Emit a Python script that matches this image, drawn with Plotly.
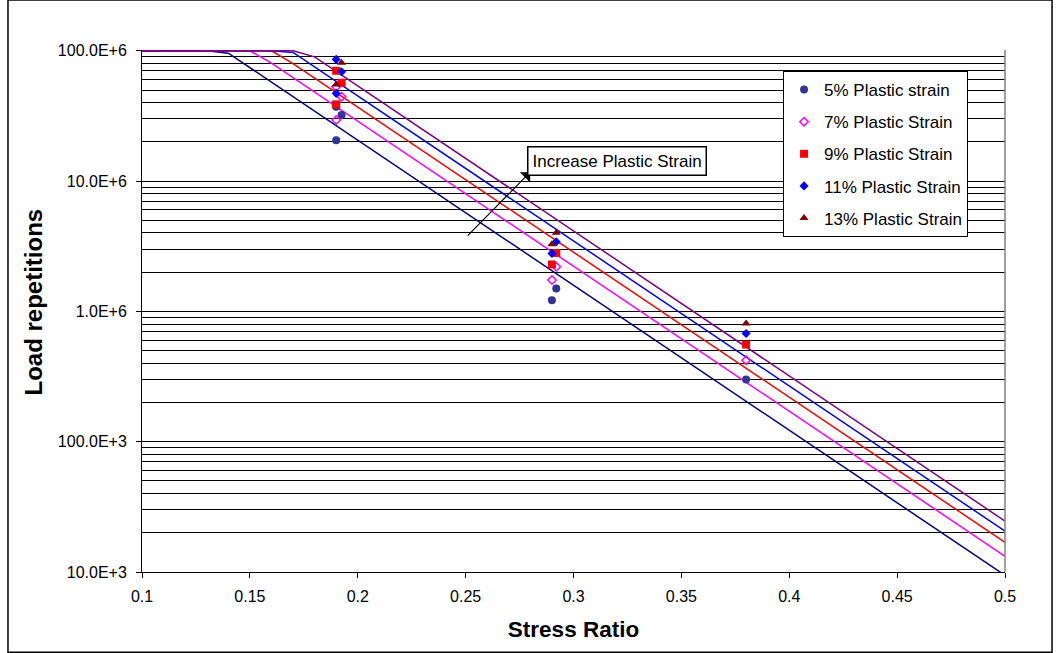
import plotly.graph_objects as go

# ---- Data ----
# Model lines (vertices of each polyline: stress ratio, load repetitions)
line_names = ["5% model", "7% model", "9% model", "11% model", "13% model"]
line_colors = ["#000080", "#FF00FF", "#FF0000", "#0000FF", "#800080"]
line5_x = [0.10, 0.13, 0.14, 0.50]
line5_y = [1.0e8, 1.0e8, 9.59e7, 9.43e3]
line7_x = [0.10, 0.15, 0.16, 0.50]
line7_y = [1.0e8, 1.0e8, 8.03e7, 1.32e4]
line9_x = [0.10, 0.16, 0.17, 0.50]
line9_y = [1.0e8, 1.0e8, 7.96e7, 1.69e4]
line11_x = [0.10, 0.16, 0.17, 0.50]
line11_y = [1.0e8, 1.0e8, 9.72e7, 2.06e4]
line13_x = [0.10, 0.17, 0.18, 0.50]
line13_y = [1.0e8, 1.0e8, 8.98e7, 2.46e4]

# Test points
s5_x = [0.190, 0.1925, 0.190, 0.292, 0.290, 0.380]
s5_y = [2.06e7, 3.21e7, 3.72e7, 1.50e6, 1.22e6, 3.00e5]
s7_x = [0.190, 0.1925, 0.190, 0.292, 0.290, 0.380]
s7_y = [2.94e7, 4.44e7, 5.29e7, 2.20e6, 1.74e6, 4.22e5]
s9_x = [0.190, 0.1925, 0.190, 0.292, 0.290, 0.380]
s9_y = [3.88e7, 5.68e7, 7.02e7, 2.81e6, 2.29e6, 5.57e5]
s11_x = [0.190, 0.1925, 0.190, 0.292, 0.290, 0.380]
s11_y = [4.71e7, 6.90e7, 8.59e7, 3.42e6, 2.78e6, 6.77e5]
s13_x = [0.190, 0.1925, 0.292, 0.290, 0.380]
s13_y = [5.52e7, 8.09e7, 4.01e6, 3.28e6, 8.08e5]

series_names = ["5% Plastic strain", "7% Plastic Strain", "9% Plastic Strain",
                "11% Plastic Strain", "13% Plastic Strain"]

x_ticks = [0.1, 0.15, 0.2, 0.25, 0.3, 0.35, 0.4, 0.45, 0.5]
x_ticktext = ["0.1", "0.15", "0.2", "0.25", "0.3", "0.35", "0.4", "0.45", "0.5"]
y_ticks = [1e4, 1e5, 1e6, 1e7, 1e8]
y_ticktext = ["10.0E+3", "100.0E+3", "1.0E+6", "10.0E+6", "100.0E+6"]

FONT = "Liberation Sans, Arial, sans-serif"

fig = go.Figure()

lines = [(line5_x, line5_y), (line7_x, line7_y), (line9_x, line9_y),
         (line11_x, line11_y), (line13_x, line13_y)]
for (lx, ly), nm, c in zip(lines, line_names, line_colors):
    fig.add_trace(go.Scatter(x=lx, y=ly, mode="lines", name=nm,
                             line=dict(color=c, width=1.5), showlegend=False,
                             hoverinfo="skip"))

pts = [(s5_x, s5_y), (s7_x, s7_y), (s9_x, s9_y), (s11_x, s11_y), (s13_x, s13_y)]
markers = [
    dict(symbol="circle", size=8, color="#333399"),
    dict(symbol="diamond-open", size=6.5, color="#FF00FF", line=dict(width=1.5, color="#FF00FF")),
    dict(symbol="square", size=8, color="#FF0000"),
    dict(symbol="diamond", size=7, color="#0000FF"),
    dict(symbol="triangle-up", size=8, color="#800000"),
]
for i, ((px, py), nm, mk) in enumerate(zip(pts, series_names, markers)):
    fig.add_trace(go.Scatter(x=px, y=py, mode="markers", name=nm, marker=mk,
                             legendgroup="g%d" % i))

minor_vals = [m * 10 ** e for e in range(4, 8) for m in range(2, 10)]

fig.update_layout(
    width=1060, height=653,
    margin=dict(l=142, r=55, t=50, b=81),
    paper_bgcolor="white", plot_bgcolor="white",
    font=dict(family=FONT, size=16, color="black"),
    showlegend=True,
    legend=dict(x=0.7428, y=0.9597, xanchor="left", yanchor="top",
                bgcolor="white", bordercolor="black", borderwidth=1,
                font=dict(size=17, family=FONT), tracegroupgap=7,
                itemsizing="trace", entrywidth=198),
    xaxis=dict(range=[0.1, 0.5], tickvals=x_ticks, ticktext=x_ticktext,
               showgrid=False, zeroline=False, showline=True, linecolor="black",
               linewidth=1, ticks="outside", ticklen=5, tickcolor="black",
               ticklabelstandoff=5,
               tickfont=dict(size=16, family=FONT),
               title=dict(text="<b>Stress Ratio</b>", font=dict(size=22.5, family=FONT),
                          standoff=17)),
    yaxis=dict(type="log", range=[4, 8.006], tickvals=y_ticks, ticktext=y_ticktext,
               showgrid=True, gridcolor="black", gridwidth=1, zeroline=False,
               showline=True, linecolor="black", linewidth=1, ticks="outside",
               ticklen=5, tickcolor="black", ticklabelstandoff=6,
               tickfont=dict(size=16, family=FONT),
               minor=dict(tickvals=minor_vals, showgrid=True, gridcolor="black",
                          gridwidth=1, ticks="")),
)

# Y-axis title (placed as rotated text)
fig.add_annotation(text="<b>Load repetitions</b>", xref="paper", yref="paper",
                   x=-0.1263, y=0.5163, xanchor="center", yanchor="middle",
                   textangle=-90, showarrow=False,
                   font=dict(size=24, family=FONT, color="black"))

# Right border of plot area (gray)
fig.add_shape(type="line", xref="paper", yref="paper", x0=1, x1=1, y0=0, y1=1,
              line=dict(color="#808080", width=1.5))
# Outer chart border
fig.add_shape(type="rect", xref="paper", yref="paper",
              x0=-0.1553, x1=1.0545, y0=-0.1536, y1=1.096,
              line=dict(color="black", width=1.5), fillcolor="rgba(0,0,0,0)")

# Arrow (tail in open space, head at the text box)
fig.add_annotation(x=0.2799, y=7.0687, ax=0.2503, ay=6.5697, xref="x", yref="y",
                   axref="x", ayref="y", text="", showarrow=True, arrowhead=1,
                   arrowsize=2.2, arrowwidth=1.1, arrowcolor="black")
# Text box
fig.add_annotation(x=0.3203, y=7.157, xref="x", yref="y", text="Increase Plastic Strain",
                   showarrow=False, bgcolor="white", bordercolor="black", borderwidth=1.5,
                   borderpad=4, font=dict(size=17, family=FONT, color="black"))

fig.write_html("out.html")
